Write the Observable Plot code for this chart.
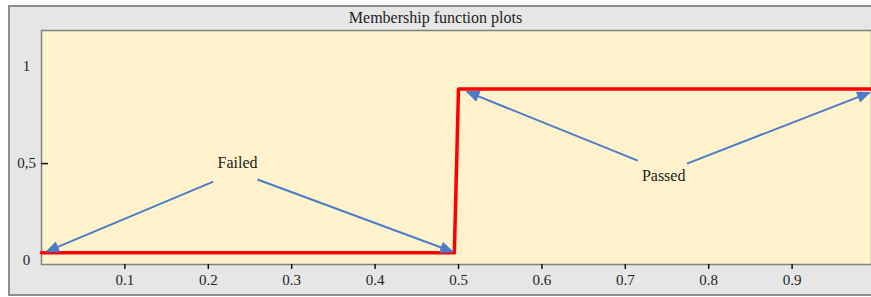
<!DOCTYPE html>
<html>
<head>
<meta charset="utf-8">
<script src="https://cdn.jsdelivr.net/npm/d3@7"></script>
<script src="https://cdn.jsdelivr.net/npm/@observablehq/plot@0.6"></script>
<style>
  html, body { margin: 0; padding: 0; background: #ffffff; overflow: hidden; }
  #wrap { position: relative; width: 871px; height: 297px; overflow: hidden; }
  #outer { position: absolute; left: 8px; top: 5px; width: 900px; height: 291px;
           box-sizing: border-box; border: 2px solid #8e8e8e; background: #e6e6e6; }
  #chart { position: absolute; left: 0; top: 0; }
</style>
</head>
<body>
<div id="wrap"><div id="outer"></div><div id="chart"></div></div>
<script>
// Membership function (step)
const muX = [0, 0.495, 0.5, 1];
const muY = [0.04, 0.04, 0.885, 0.885];

// Annotation labels
const labelText = ["Failed", "Passed"];
const labelX = [0.235, 0.746];
const labelY = [0.505, 0.438];

// Arrows (from label to curve)
const arrX1 = [0.206, 0.259, 0.715, 0.774];
const arrY1 = [0.407, 0.418, 0.515, 0.500];
const arrX2 = [0.006, 0.493, 0.510, 0.993];
const arrY2 = [0.046, 0.046, 0.871, 0.866];

// Ticks
const xTicks = [0.1, 0.2, 0.3, 0.4, 0.5, 0.6, 0.7, 0.8, 0.9, 1];
const xTickLabels = ["0.1", "0.2", "0.3", "0.4", "0.5", "0.6", "0.7", "0.8", "0.9", "1"];
const yTicks = [0, 0.5, 1];
const yTickLabels = ["0", "0,5", "1"];
const title = "Membership function plots";

// layout
const W = 871, H = 297, mT = 30, mB = 33, mL = 41;
const xRange = [41, 875];
const yDomain = [-0.02, 1.186];
const kx = (xRange[1] - xRange[0]);
const ky = (H - mT - mB) / (yDomain[1] - yDomain[0]);

const line = muX.map((x, i) => ({x, y: muY[i]}));
const labels = labelText.map((t, i) => ({t, x: labelX[i], y: labelY[i]}));
const arrows = arrX1.map((x1, i) => {
  const x2 = arrX2[i], y1 = arrY1[i], y2 = arrY2[i];
  const dxp = (x2 - x1) * kx, dyp = -(y2 - y1) * ky;
  const rot = Math.atan2(dxp, -dyp) * 180 / Math.PI;
  return {x1, y1, x2, y2, rot};
});
const yt = yTicks.map((v, i) => ({v, t: yTickLabels[i]}));

const serif = "'Liberation Serif', 'Times New Roman', serif";
const blue = "#4a7cc8";

const head = {
  draw(context, l) {
    const w = l * 0.42;
    context.moveTo(0, -l);
    context.lineTo(-w, 0);
    context.lineTo(w, 0);
    context.closePath();
  }
};

const baseMarks = [
  Plot.frame({fill: "#fff2cc", stroke: "#808080", strokeWidth: 1.5}),
  Plot.axisX({ticks: xTicks, tickFormat: (d) => xTickLabels[xTicks.indexOf(d)], tickSize: 5, tickPadding: 5, stroke: "#111", strokeWidth: 1.5, label: null, fontSize: 15, fontFamily: serif, fill: "#222"}),
  Plot.axisY({ticks: [0.5], tickFormat: () => "", tickSize: 7, dx: 7, stroke: "#111", strokeWidth: 1.5, label: null}),
  Plot.text(yt, {y: "v", text: "t", frameAnchor: "left", dx: -15, textAnchor: "middle", fontSize: 15, fontFamily: serif, fill: "#222"}),
  Plot.line(line, {x: "x", y: "y", stroke: "#ff0000", strokeWidth: 3.5})
];
const topMarks = [
  Plot.text(labels, {x: "x", y: "y", text: "t", fontSize: 16, fontFamily: serif, fill: "#222"}),
  Plot.text([title], {frameAnchor: "top", lineAnchor: "middle", text: (d) => d, dy: -13, dx: -21, fontSize: 16, fontFamily: serif, fill: "#222"})
];

function make(arrowMarks) {
  return Plot.plot({
    width: W,
    height: H,
    marginTop: mT,
    marginBottom: mB,
    marginLeft: mL,
    marginRight: 0,
    style: {background: "transparent", fontFamily: serif, fontSize: "15px", color: "#222"},
    x: {domain: [0, 1], range: xRange},
    y: {domain: yDomain},
    marks: [...baseMarks, ...arrowMarks, ...topMarks]
  });
}

let chart;
try {
  chart = make([
    Plot.link(arrows, {x1: "x1", y1: "y1", x2: "x2", y2: "y2", stroke: blue, strokeWidth: 2}),
    Plot.vector(arrows, {x: "x2", y: "y2", rotate: "rot", length: 12, anchor: "end", shape: head, fill: blue, stroke: blue, strokeWidth: 1})
  ]);
} catch (e) {
  chart = make([
    Plot.arrow(arrows, {x1: "x1", y1: "y1", x2: "x2", y2: "y2", stroke: blue, strokeWidth: 2, headLength: 11, headAngle: 50})
  ]);
}
document.getElementById("chart").appendChild(chart);
</script>
</body>
</html>
